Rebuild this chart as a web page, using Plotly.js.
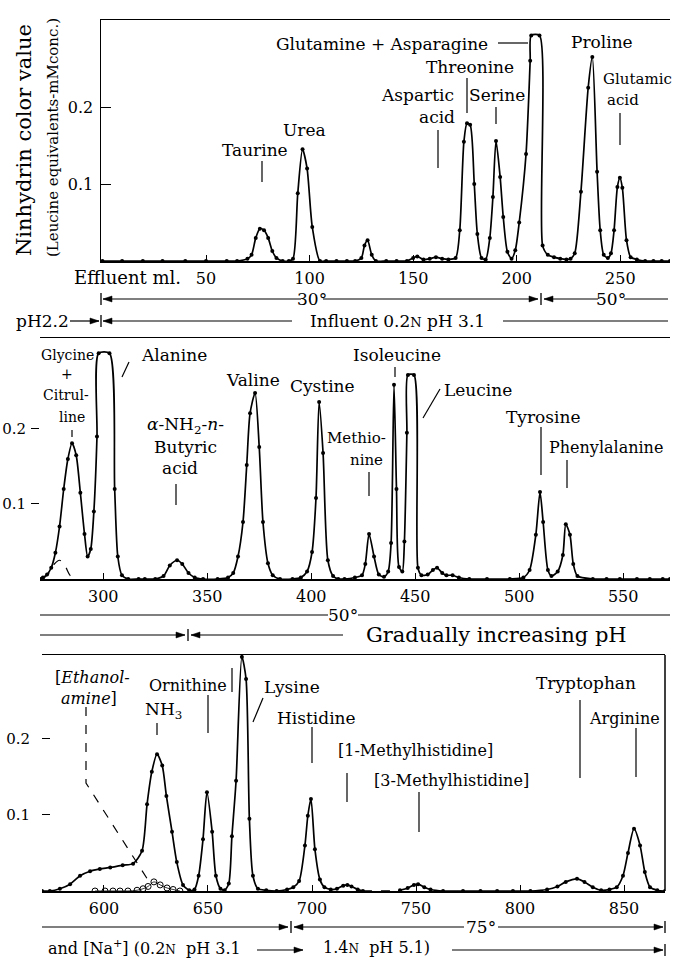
<!DOCTYPE html>
<html><head><meta charset="utf-8">
<script src="https://cdn.plot.ly/plotly-3.0.1.min.js"></script>
<style>html,body{margin:0;padding:0;background:#fff}</style>
</head><body><div id="chart" style="width:674px;height:958px"></div>
<script>
// ---------- DATA (effluent ml, ninhydrin colour value) ----------
const topMl  = [0,9.5,19.5,29,40,50,60,65,70,72,74,76,78,80,82,84,87,90,92,94.3,96.6,98.8,101.3,105,108,113,118,122,125,126.5,128,130,132,137,142,147,150,152,155,158,161,164,167,170.5,172.5,174.5,176,177.5,179.5,181,183,185,187,188.5,190,192,193.5,195.5,197.5,199.3,201.2,204.5,206.5,207,211,212.5,215,218,221,224,226,228,231,234.5,236.5,238.8,240.3,242,244,245.5,247,248.6,249.8,251,253,255,258,262,266,270,274];
const topVal = [0,0,0,0,0,0,0,0,0.003,0.008,0.03,0.042,0.04,0.03,0.013,0.004,0,0,0.003,0.088,0.145,0.12,0.044,0,0,0,0,0,0.004,0.02,0.027,0.008,0,0,0,0,0.004,0.006,0.002,0.003,0.005,0.003,0.002,0.004,0.04,0.155,0.179,0.177,0.1,0.035,0.004,0.002,0.03,0.083,0.156,0.109,0.057,0.012,0.003,0.014,0.05,0.139,0.26,0.293,0.293,0.02,0.008,0.005,0.003,0.002,0.003,0.01,0.09,0.225,0.265,0.116,0.04,0.008,0.004,0.01,0.04,0.096,0.108,0.095,0.027,0.005,0.002,0,0,0,0];

const midMl  = [269.6,271,273,275,277,279,281,283,285,287,289,291,292.5,294,295.5,297,297.8,303,305.5,307,309,312,317,320,325,329,332,335.5,338,341,344,348,355,360,362.5,364.8,367.2,369,370.6,373,375,376.8,379.2,381.5,385,391,395,398,400.4,402.3,403.8,405.7,408,410.5,413,416,421,424.4,426,427.8,430.2,432.5,435,437,438.4,439.8,441,442.2,443.8,444.8,446,446.5,449.4,451.3,453,456,458.5,460.5,463,465,468,471,476,484.5,495.5,502,505,508,510,511.5,513.8,515.5,518.5,521,522.4,524.4,526,528,535.4,542,548.4,556.6,562.8,569,572.5];
const midVal = [0,0.002,0.006,0.015,0.035,0.07,0.12,0.16,0.181,0.165,0.115,0.06,0.03,0.04,0.09,0.19,0.301,0.301,0.12,0.03,0.005,0,0,0,0,0.004,0.018,0.025,0.02,0.008,0.002,0,0,0.002,0.008,0.03,0.076,0.152,0.221,0.248,0.176,0.076,0.021,0.005,0,0,0.002,0.01,0.036,0.108,0.236,0.168,0.025,0.004,0,0,0.002,0.005,0.02,0.06,0.03,0.006,0.003,0.01,0.048,0.259,0.12,0.016,0.01,0.05,0.195,0.272,0.272,0.015,0.005,0.006,0.012,0.015,0.008,0.005,0.005,0.002,0,0,0,0.002,0.012,0.059,0.116,0.076,0.012,0.004,0.01,0.032,0.073,0.059,0.02,0.004,0,0,0,0,0,0,0];
const glyMl  = [271,274,276.5,279,281.5,284,286];
const glyVal = [0,0.008,0.02,0.025,0.018,0.005,0];

const botMl  = [570.2,574,578.8,583.7,588.5,593.3,598,603,609,614,618.3,620.7,623,625.5,628,630,632.7,635,638,641,643.5,645.5,647.6,649.5,652,653.8,656,658,660,661.5,663.5,666.3,668.3,669.9,671.6,674,678,683,688,691,693.8,696.6,698,699.5,701.4,703.8,706,709,712,715,717,719,722,724.5,null,742.3,746,749,751,754,757,763,772.6,781,789,796.6,805,813,818,822,827.4,831,835,839,843,846.5,849.5,851.9,854.8,857.7,860,862.5,866,869.7];
const botVal = [0,0,0.003,0.009,0.02,0.026,0.029,0.031,0.034,0.036,0.053,0.114,0.157,0.18,0.165,0.125,0.078,0.038,0.008,0.001,0.002,0.02,0.068,0.13,0.078,0.02,0.003,0.001,0.01,0.072,0.145,0.308,0.279,0.095,0.02,0.003,0.001,0,0.002,0.005,0.013,0.06,0.099,0.121,0.055,0.015,0.005,0.002,0.003,0.007,0.008,0.006,0.002,0,null,0.001,0.004,0.008,0.009,0.005,0.002,0,0,0,0,0,0,0.002,0.006,0.012,0.016,0.012,0.005,0.001,0.002,0.005,0.02,0.05,0.082,0.06,0.025,0.005,0.001,0];
const gapMl  = [724.5,742.3];
const gapVal = [0,0];
const ethMl  = [595.7,600.5,604.3,607.7,611.5,615.9,618.8,621.2,624,627,630.3,633.2,636.5];
const ethVal = [0,0,0,0,0,0.001,0.003,0.006,0.012,0.008,0.004,0.002,0];

const topTicks = [50,100,150,200,250];
const midTicks = [300,350,400,450,500,550];
const botTicks = [600,650,700,750,800,850];
const yTicks   = [0.1,0.2];
const yTickText = ['0.1','0.2'];

// ---------- LAYOUT HELPERS ----------
const W=674,H=958, FONT='DejaVu Serif';
const fx=x=>x/W, fy=y=>1-y/H;
const shapes=[], ann=[];
function L(x0,y0,x1,y1,o){o=o||{};shapes.push({type:'line',xref:'paper',yref:'paper',x0:fx(x0),y0:fy(y0),x1:fx(x1),y1:fy(y1),line:{color:'#000',width:o.w||1.2,dash:o.dash||'solid'}});}
function A(x,y,dir){const l=9,h=3;const bx=dir>0?x-l:x+l;
  shapes.push({type:'path',xref:'paper',yref:'paper',path:`M${fx(x)},${fy(y)} L${fx(bx)},${fy(y-h)} L${fx(bx)},${fy(y+h)} Z`,fillcolor:'#000',line:{color:'#000',width:0.5}});}
function B(x,y){L(x,y-6,x,y+6,{w:1.3});}
function T(text,x,y,size,o){o=o||{};ann.push({text:text,xref:'paper',yref:'paper',x:fx(x),y:fy(y),xanchor:o.xa||'center',yanchor:'middle',showarrow:false,textangle:o.ang||0,font:{family:FONT,size:size,color:'#000'}});}

// axis title
T('Ninhydrin color value',24,140,21,{ang:-90});
T('(Leucine equivalents-mMconc.)',53,138,15,{ang:-90});
T('Effluent ml.',127,277,18);

// top labels
T('Taurine',255,150,17); L(262,161,262,182);
T('Urea',304,130,17);
T('Glutamine + Asparagine',382,44,17); L(498,43,528,43);
T('Threonine',470,67,17); L(467,78,467,113);
T('Aspartic',417,95,17); T('acid',437,117,17); L(438,130,438,168);
T('Serine',497,95,17); L(496,107,496,124);
T('Proline',602,42,17);
T('Glutamic',637,79,15); T('acid',623,100,15); L(620,113,620,145);
// top rows
B(101,299); A(103,299,-1); L(103,299,301,299); T('30°',312,299,17); L(323,299,538,299); A(538,299,1); B(541,299); A(544,299,-1); L(544,299,598,299); T('50°',611,299,17); L(624,299,668,299);
T('pH2.2',42,321,17); L(70,321,99,321); A(99,321,1); B(101,321); A(103,321,-1); L(103,321,292,321);
T('Influent 0.2<span style="font-size:13px">N</span> pH 3.1',397,321,17); L(503,321,668,321);

// middle labels
T('Glycine',67,355,14); T('+',67,374,14); T('Citrul-',66,395,14); T('line',72,417,14); L(72,430,72,437);
T('Alanine',174,355,17); L(122,377,129,362);
T('Valine',253,380,17);
T('Cystine',322,386,17);
T('<i>α</i>-NH<sub>2</sub>-<i>n</i>-',185,425,17); T('Butyric',185,447,17); T('acid',180,468,17); L(176,484,176,505);
T('Methio-',356,438,15); T('nine',366,460,15); L(369,472,369,496);
T('Isoleucine',397,355,17); L(395,367,395,377);
T('Leucine',478,390,17); L(423,418,440,389);
T('Tyrosine',543,417,17); L(541,427,541,475);
T('Phenylalanine',606,447,16); L(567,460,567,488);
// middle rows
L(40,615,328,615); T('50°',343,615,17); L(358,615,670,615);
L(40,635,185,635); A(185,635,1); B(188,635); A(191,635,-1); L(191,635,343,635);
T('Gradually increasing pH',496,635,21);

// bottom labels
T('[<i>Ethanol-</i>',92,677,16); T('<i>amine</i>]',89,698,16);
shapes.push({type:'path',xref:'paper',yref:'paper',path:`M${fx(86)},${fy(707)} L${fx(86)},${fy(783)} L${fx(148)},${fy(880)}`,line:{color:'#000',width:1.2,dash:'dash'}});
T('Ornithine',188,685,16); L(208,695,208,733); L(232,668,232,692);
T('NH<sub>3</sub>',163,710,17); L(157,723,157,735);
T('Lysine',292,687,17); L(253,722,263,698);
T('Histidine',316,718,17); L(312,727,312,763);
T('[1-Methylhistidine]',415,750,16); L(347,773,347,802);
T('[3-Methylhistidine]',452,780,16); L(419,792,419,832);
T('Tryptophan',586,683,17); L(580,700,580,778);
T('Arginine',624,718,16); L(636,728,636,777);
// bottom right border
L(665,655,665,891,{w:1.5});
// bottom rows
L(42,927,288,927); A(288,927,1); B(291,927); A(294,927,-1); L(294,927,464,927); T('75°',481,927,17); L(498,927,663,927); A(663,927,1); B(665,927);
T('and [Na<sup>+</sup>] (0.2<span style="font-size:12px">N</span>  pH 3.1',144,947,16);
L(257,950,303,950); A(303,950,1);
T('1.4<span style="font-size:12px">N</span>  pH 5.1)',376,947,16);
L(452,950,663,950); A(663,950,1); B(665,950);

// ---------- TRACES ----------
const lineStyle={color:'#000',width:1.7,shape:'spline',smoothing:0.7};
const mk={color:'#000',size:4};
const traces=[
 {x:topMl,y:topVal,xaxis:'x',yaxis:'y',mode:'lines+markers',line:lineStyle,marker:mk,hoverinfo:'skip'},
 {x:midMl,y:midVal,xaxis:'x2',yaxis:'y2',mode:'lines+markers',line:lineStyle,marker:mk,hoverinfo:'skip'},
 {x:glyMl,y:glyVal,xaxis:'x2',yaxis:'y2',mode:'lines',line:{color:'#000',width:1.2,dash:'dash',shape:'spline'},hoverinfo:'skip'},
 {x:botMl,y:botVal,xaxis:'x3',yaxis:'y3',mode:'lines+markers',connectgaps:false,line:lineStyle,marker:mk,hoverinfo:'skip'},
 {x:gapMl,y:gapVal,xaxis:'x3',yaxis:'y3',mode:'lines',line:{color:'#000',width:1.4,dash:'dash'},hoverinfo:'skip'},
 {x:ethMl,y:ethVal,xaxis:'x3',yaxis:'y3',mode:'lines+markers',line:{color:'#000',width:0.8,shape:'spline'},marker:{symbol:'circle-open',size:6,color:'#000',line:{width:1}},hoverinfo:'skip'}
];

const tf={family:FONT,size:16,color:'#000'};
const tf2={family:FONT,size:15,color:'#000'};
function xa(dom,range,ticks,anchor){return {domain:dom,range:range,anchor:anchor,tickvals:ticks,ticktext:ticks.map(String),ticks:'inside',ticklen:6,tickcolor:'#000',showline:true,mirror:true,linecolor:'#000',linewidth:1.5,showgrid:false,zeroline:false,tickfont:tf,ticklabelstandoff:2,fixedrange:true};}
function ya(dom,range,anchor,o){return Object.assign({domain:dom,range:range,anchor:anchor,tickvals:yTicks,ticktext:yTickText,tickcolor:'#000',showgrid:false,zeroline:false,tickfont:tf,fixedrange:true},o);}

const layout={
 width:W,height:H,margin:{l:0,r:0,t:0,b:0},paper_bgcolor:'#fff',plot_bgcolor:'rgba(0,0,0,0)',showlegend:false,
 xaxis: xa([fx(101),fx(670)],[-0.7,274],topTicks,'y'),
 yaxis: ya([fy(261),fy(20)],[0,0.313],'x',{ticks:'inside',ticklen:10,showline:true,linecolor:'#000',linewidth:1.5,ticklabelstandoff:3}),
 xaxis2: xa([fx(40),fx(670)],[269.6,572.5],midTicks,'y2'),
 yaxis2: ya([fy(579),fy(338)],[0,0.3213],'x2',{ticks:'outside',ticklen:8,showline:false,ticklabelstandoff:2,tickfont:tf2}),
 xaxis3: xa([fx(42),fx(665)],[570.2,869.7],botTicks,'y3'),
 yaxis3: ya([fy(891),fy(655)],[0,0.3105],'x3',{ticks:'inside',ticklen:8,showline:false,ticklabelstandoff:11,tickfont:tf2}),
 shapes:shapes,annotations:ann
};
Plotly.newPlot('chart',traces,layout,{staticPlot:true,displayModeBar:false});
</script></body></html>
